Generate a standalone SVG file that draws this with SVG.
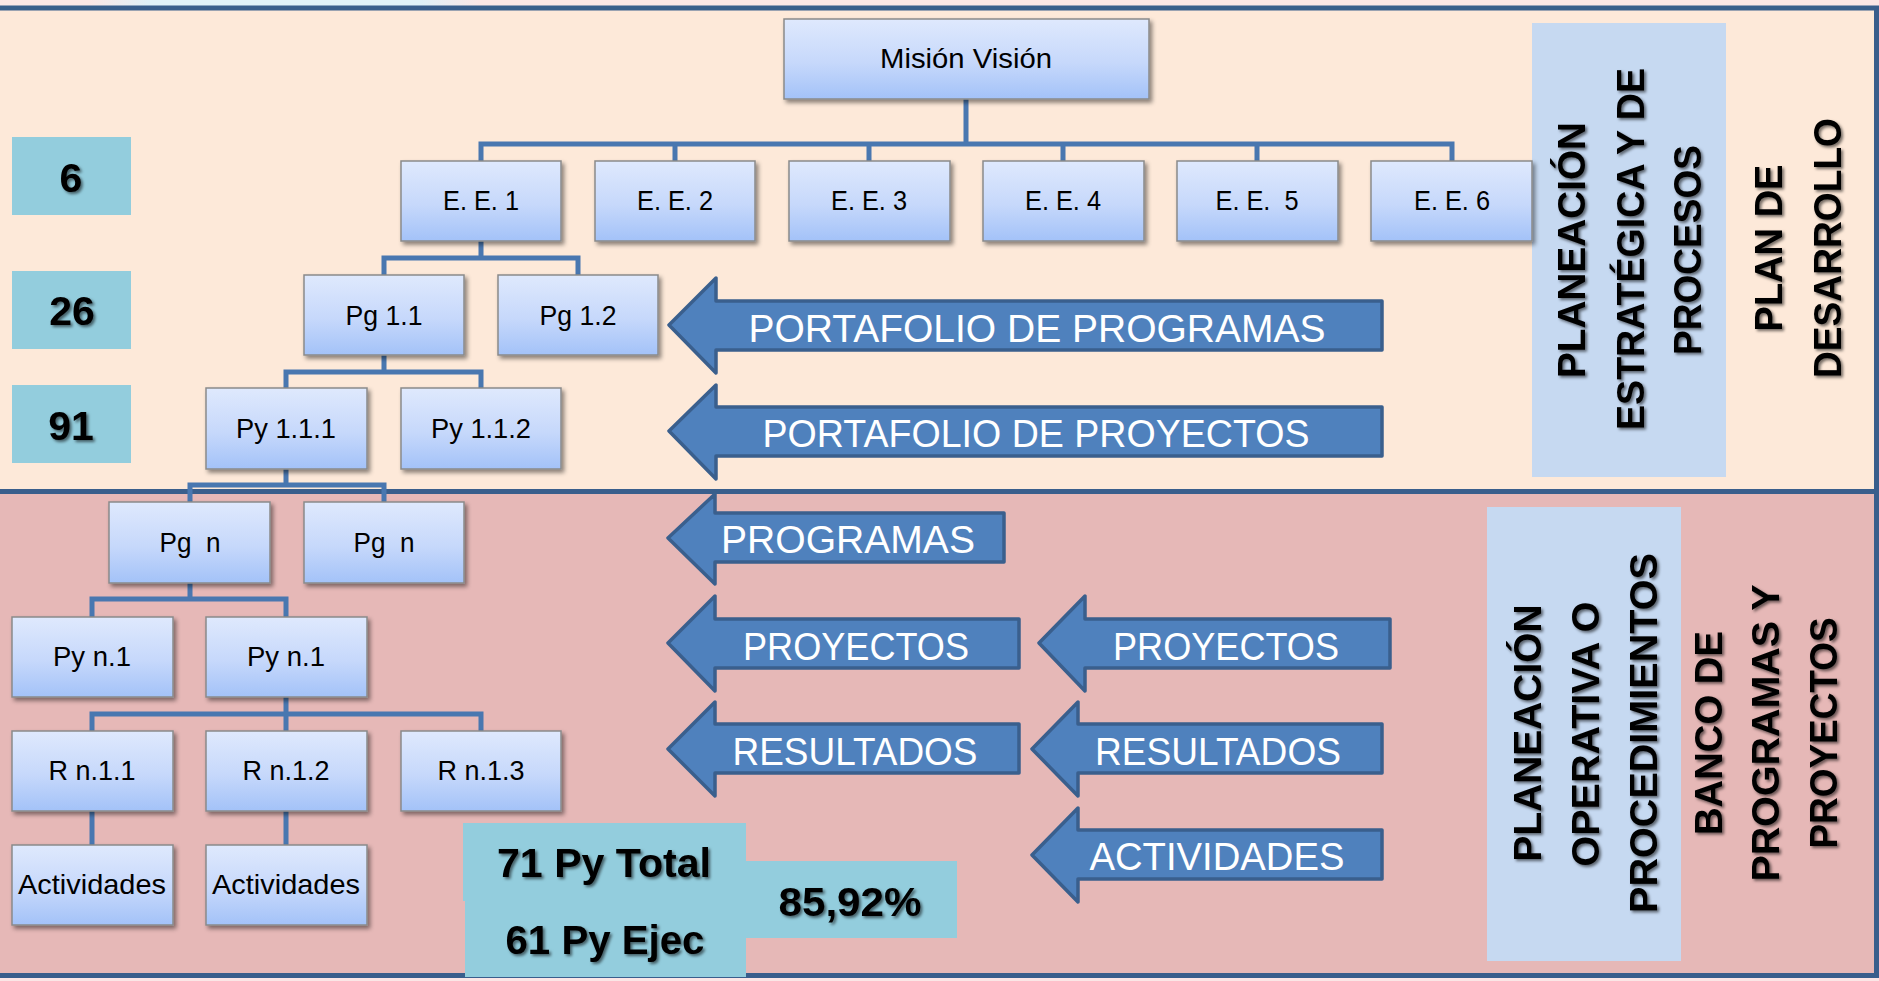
<svg xmlns="http://www.w3.org/2000/svg" width="1879" height="981" viewBox="0 0 1879 981">
<style>
.bx{fill:url(#boxg);stroke:#8a8a8a;stroke-width:1.5;filter:url(#sh)}
.bt{font-family:"Liberation Sans",Arial,sans-serif;font-size:28px;fill:#000;text-anchor:middle}
.num{fill:#93cddd}
.nt{font-family:"Liberation Sans",Arial,sans-serif;font-weight:bold;font-size:41px;fill:#000;text-anchor:middle}
.arr{fill:#4f81bd;stroke:#3a5f8d;stroke-width:3.5;stroke-linejoin:round}
.at{font-family:"Liberation Sans",Arial,sans-serif;font-size:39px;fill:#fff;text-anchor:middle}
.vt{font-family:"Liberation Sans",Arial,sans-serif;font-weight:bold;font-size:39px;fill:#000;text-anchor:middle}
.con{fill:none;stroke:#4977b0;stroke-width:5;stroke-linejoin:miter;stroke-linecap:square}
.bd{stroke:#395e8c;stroke-width:5;fill:none}
</style>
<defs>
<linearGradient id="boxg" x1="0" y1="0" x2="0" y2="1">
<stop offset="0" stop-color="#dfe9fd"/>
<stop offset="0.55" stop-color="#c6d8fb"/>
<stop offset="1" stop-color="#a3c2f8"/>
</linearGradient>
<linearGradient id="strip" x1="0" y1="0" x2="1" y2="0">
<stop offset="0" stop-color="#e0f1f8" stop-opacity="0"/>
<stop offset="0.15" stop-color="#e0f1f8"/>
<stop offset="0.85" stop-color="#e0f1f8"/>
<stop offset="1" stop-color="#e0f1f8" stop-opacity="0"/>
</linearGradient>
<filter id="sh" x="-10%" y="-10%" width="130%" height="140%">
<feDropShadow dx="2.5" dy="3" stdDeviation="2" flood-color="#000" flood-opacity="0.45"/>
</filter>
<filter id="tsh" x="-10%" y="-10%" width="120%" height="120%">
<feDropShadow dx="2" dy="2" stdDeviation="1.5" flood-color="#000" flood-opacity="0.55"/>
</filter>
</defs>

<g id="background">
<rect x="0" y="0" width="1879" height="981" fill="#fbe6e6"/>
<rect x="90" y="0" width="390" height="6" fill="url(#strip)"/>
<rect x="0" y="8" width="1876" height="484" fill="#fde9d9"/>
<rect x="0" y="492" width="1876" height="484" fill="#e6b8b7"/>
<line class="bd" x1="0" y1="8" x2="1879" y2="8"/>
<line class="bd" x1="0" y1="491.5" x2="1879" y2="491.5"/>
<line class="bd" x1="0" y1="975.5" x2="1879" y2="975.5"/>
<line class="bd" x1="1876.5" y1="6" x2="1876.5" y2="978"/>
</g>

<g id="panel-upper">
<rect x="1532" y="23" width="194" height="454" fill="#c6d9f1"/>
<g filter="url(#tsh)">
<text class="vt" transform="translate(1585,250) rotate(-90)" textLength="256" lengthAdjust="spacingAndGlyphs">PLANEACIÓN</text>
<text class="vt" transform="translate(1644,249) rotate(-90)" textLength="362" lengthAdjust="spacingAndGlyphs">ESTRATÉGICA Y DE</text>
<text class="vt" transform="translate(1701,250) rotate(-90)" textLength="210" lengthAdjust="spacingAndGlyphs">PROCESOS</text>
<text class="vt" transform="translate(1782,248) rotate(-90)" textLength="167" lengthAdjust="spacingAndGlyphs">PLAN DE</text>
<text class="vt" transform="translate(1841,248) rotate(-90)" textLength="260" lengthAdjust="spacingAndGlyphs">DESARROLLO</text>
</g>
</g>

<g id="panel-lower">
<rect x="1487" y="507" width="194" height="454" fill="#c6d9f1"/>
<g filter="url(#tsh)">
<text class="vt" transform="translate(1541,733) rotate(-90)" textLength="257" lengthAdjust="spacingAndGlyphs">PLANEACIÓN</text>
<text class="vt" transform="translate(1599,734) rotate(-90)" textLength="265" lengthAdjust="spacingAndGlyphs">OPERATIVA O</text>
<text class="vt" transform="translate(1657,733) rotate(-90)" textLength="360" lengthAdjust="spacingAndGlyphs">PROCEDIMIENTOS</text>
<text class="vt" transform="translate(1722,733) rotate(-90)" textLength="204" lengthAdjust="spacingAndGlyphs">BANCO DE</text>
<text class="vt" transform="translate(1779,733) rotate(-90)" textLength="297" lengthAdjust="spacingAndGlyphs">PROGRAMAS Y</text>
<text class="vt" transform="translate(1837,733) rotate(-90)" textLength="231" lengthAdjust="spacingAndGlyphs">PROYECTOS</text>
</g>
</g>

<g id="counts">
<rect class="num" x="12" y="137" width="119" height="78"/>
<rect class="num" x="12" y="271" width="119" height="78"/>
<rect class="num" x="12" y="385" width="119" height="78"/>
<g filter="url(#tsh)">
<text class="nt" x="71" y="192">6</text>
<text class="nt" x="72" y="325">26</text>
<text class="nt" x="71" y="440">91</text>
</g>
</g>

<g id="connectors">
<path class="con" d="M966 99V144M481 161V144H1452V161M675 144V161M869 144V161M1063 144V161M1257 144V161"/>
<path class="con" d="M481 241V258M384 275V258H578V275"/>
<path class="con" d="M384 355V372M286 388V372H481V388"/>
<path class="con" d="M286 469V485M190 502V485H384V502"/>
<path class="con" d="M190 583V599M92 617V599H286V617"/>
<path class="con" d="M286 697V731M92 731V714H481V731"/>
<path class="con" d="M92 811V845M286 811V845"/>
</g>

<g id="node-mision"><rect class="bx" x="784" y="19" width="365" height="80"/><text class="bt" x="966" y="68" textLength="172" lengthAdjust="spacingAndGlyphs">Misión Visión</text></g>
<g id="node-ee1"><rect class="bx" x="401" y="161" width="160" height="80"/><text class="bt" x="481" y="210" textLength="76" lengthAdjust="spacingAndGlyphs">E. E. 1</text></g>
<g id="node-ee2"><rect class="bx" x="595" y="161" width="160" height="80"/><text class="bt" x="675" y="210" textLength="76" lengthAdjust="spacingAndGlyphs">E. E. 2</text></g>
<g id="node-ee3"><rect class="bx" x="789" y="161" width="161" height="80"/><text class="bt" x="869" y="210" textLength="76" lengthAdjust="spacingAndGlyphs">E. E. 3</text></g>
<g id="node-ee4"><rect class="bx" x="983" y="161" width="161" height="80"/><text class="bt" x="1063" y="210" textLength="76" lengthAdjust="spacingAndGlyphs">E. E. 4</text></g>
<g id="node-ee5"><rect class="bx" x="1177" y="161" width="161" height="80"/><text class="bt" x="1257" y="210" xml:space="preserve" textLength="83" lengthAdjust="spacingAndGlyphs">E. E.  5</text></g>
<g id="node-ee6"><rect class="bx" x="1371" y="161" width="161" height="80"/><text class="bt" x="1452" y="210" textLength="76" lengthAdjust="spacingAndGlyphs">E. E. 6</text></g>
<g id="node-pg11"><rect class="bx" x="304" y="275" width="160" height="80"/><text class="bt" x="384" y="325" textLength="77" lengthAdjust="spacingAndGlyphs">Pg 1.1</text></g>
<g id="node-pg12"><rect class="bx" x="498" y="275" width="160" height="80"/><text class="bt" x="578" y="325" textLength="77" lengthAdjust="spacingAndGlyphs">Pg 1.2</text></g>
<g id="node-py111"><rect class="bx" x="206" y="388" width="161" height="81"/><text class="bt" x="286" y="438" textLength="100" lengthAdjust="spacingAndGlyphs">Py 1.1.1</text></g>
<g id="node-py112"><rect class="bx" x="401" y="388" width="160" height="81"/><text class="bt" x="481" y="438" textLength="100" lengthAdjust="spacingAndGlyphs">Py 1.1.2</text></g>
<g id="node-pgn1"><rect class="bx" x="109" y="502" width="161" height="81"/><text class="bt" x="190" y="552" xml:space="preserve" textLength="61" lengthAdjust="spacingAndGlyphs">Pg  n</text></g>
<g id="node-pgn2"><rect class="bx" x="304" y="502" width="160" height="81"/><text class="bt" x="384" y="552" xml:space="preserve" textLength="61" lengthAdjust="spacingAndGlyphs">Pg  n</text></g>
<g id="node-pyn1a"><rect class="bx" x="12" y="617" width="161" height="80"/><text class="bt" x="92" y="666" textLength="78" lengthAdjust="spacingAndGlyphs">Py n.1</text></g>
<g id="node-pyn1b"><rect class="bx" x="206" y="617" width="161" height="80"/><text class="bt" x="286" y="666" textLength="78" lengthAdjust="spacingAndGlyphs">Py n.1</text></g>
<g id="node-rn11"><rect class="bx" x="12" y="731" width="161" height="80"/><text class="bt" x="92" y="780" textLength="87" lengthAdjust="spacingAndGlyphs">R n.1.1</text></g>
<g id="node-rn12"><rect class="bx" x="206" y="731" width="161" height="80"/><text class="bt" x="286" y="780" textLength="87" lengthAdjust="spacingAndGlyphs">R n.1.2</text></g>
<g id="node-rn13"><rect class="bx" x="401" y="731" width="160" height="80"/><text class="bt" x="481" y="780" textLength="87" lengthAdjust="spacingAndGlyphs">R n.1.3</text></g>
<g id="node-act1"><rect class="bx" x="12" y="845" width="161" height="80"/><text class="bt" x="92" y="894" textLength="148" lengthAdjust="spacingAndGlyphs">Actividades</text></g>
<g id="node-act2"><rect class="bx" x="206" y="845" width="161" height="80"/><text class="bt" x="286" y="894" textLength="148" lengthAdjust="spacingAndGlyphs">Actividades</text></g>

<g id="arrow-portafolio-programas">
<path class="arr" d="M669 325L716 278V301H1382V350H716V373Z"/>
<text class="at" x="1037" y="342" textLength="577" lengthAdjust="spacingAndGlyphs">PORTAFOLIO DE PROGRAMAS</text>
</g>
<g id="arrow-portafolio-proyectos">
<path class="arr" d="M669 431L716 385V407H1382V456H716V479Z"/>
<text class="at" x="1036" y="447" textLength="547" lengthAdjust="spacingAndGlyphs">PORTAFOLIO DE PROYECTOS</text>
</g>
<g id="arrow-programas">
<path class="arr" d="M668 538L715 494V513H1004V562H715V584Z"/>
<text class="at" x="848" y="553" textLength="254" lengthAdjust="spacingAndGlyphs">PROGRAMAS</text>
</g>
<g id="arrow-proyectos-1">
<path class="arr" d="M668 643L715 596V619H1019V668H715V691Z"/>
<text class="at" x="856" y="660" textLength="226" lengthAdjust="spacingAndGlyphs">PROYECTOS</text>
</g>
<g id="arrow-proyectos-2">
<path class="arr" d="M1039 643L1085 596V619H1390V668H1085V691Z"/>
<text class="at" x="1226" y="660" textLength="226" lengthAdjust="spacingAndGlyphs">PROYECTOS</text>
</g>
<g id="arrow-resultados-1">
<path class="arr" d="M668 749L715 702V724H1019V773H715V796Z"/>
<text class="at" x="855" y="765" textLength="245" lengthAdjust="spacingAndGlyphs">RESULTADOS</text>
</g>
<g id="arrow-resultados-2">
<path class="arr" d="M1032 749L1078 702V724H1382V773H1078V796Z"/>
<text class="at" x="1218" y="765" textLength="246" lengthAdjust="spacingAndGlyphs">RESULTADOS</text>
</g>
<g id="arrow-actividades">
<path class="arr" d="M1032 855L1078 808V830H1382V879H1078V902Z"/>
<text class="at" x="1217" y="870" textLength="255" lengthAdjust="spacingAndGlyphs">ACTIVIDADES</text>
</g>

<g id="stats">
<rect class="num" x="463" y="823" width="283" height="78"/>
<rect class="num" x="465" y="900" width="281" height="77"/>
<rect class="num" x="745" y="861" width="212" height="77"/>
<g filter="url(#tsh)">
<text class="nt" x="604" y="877" textLength="214" lengthAdjust="spacingAndGlyphs">71 Py Total</text>
<text class="nt" x="605" y="954" textLength="199" lengthAdjust="spacingAndGlyphs">61 Py Ejec</text>
<text class="nt" x="850" y="916" textLength="143" lengthAdjust="spacingAndGlyphs">85,92%</text>
</g>
</g>
</svg>
